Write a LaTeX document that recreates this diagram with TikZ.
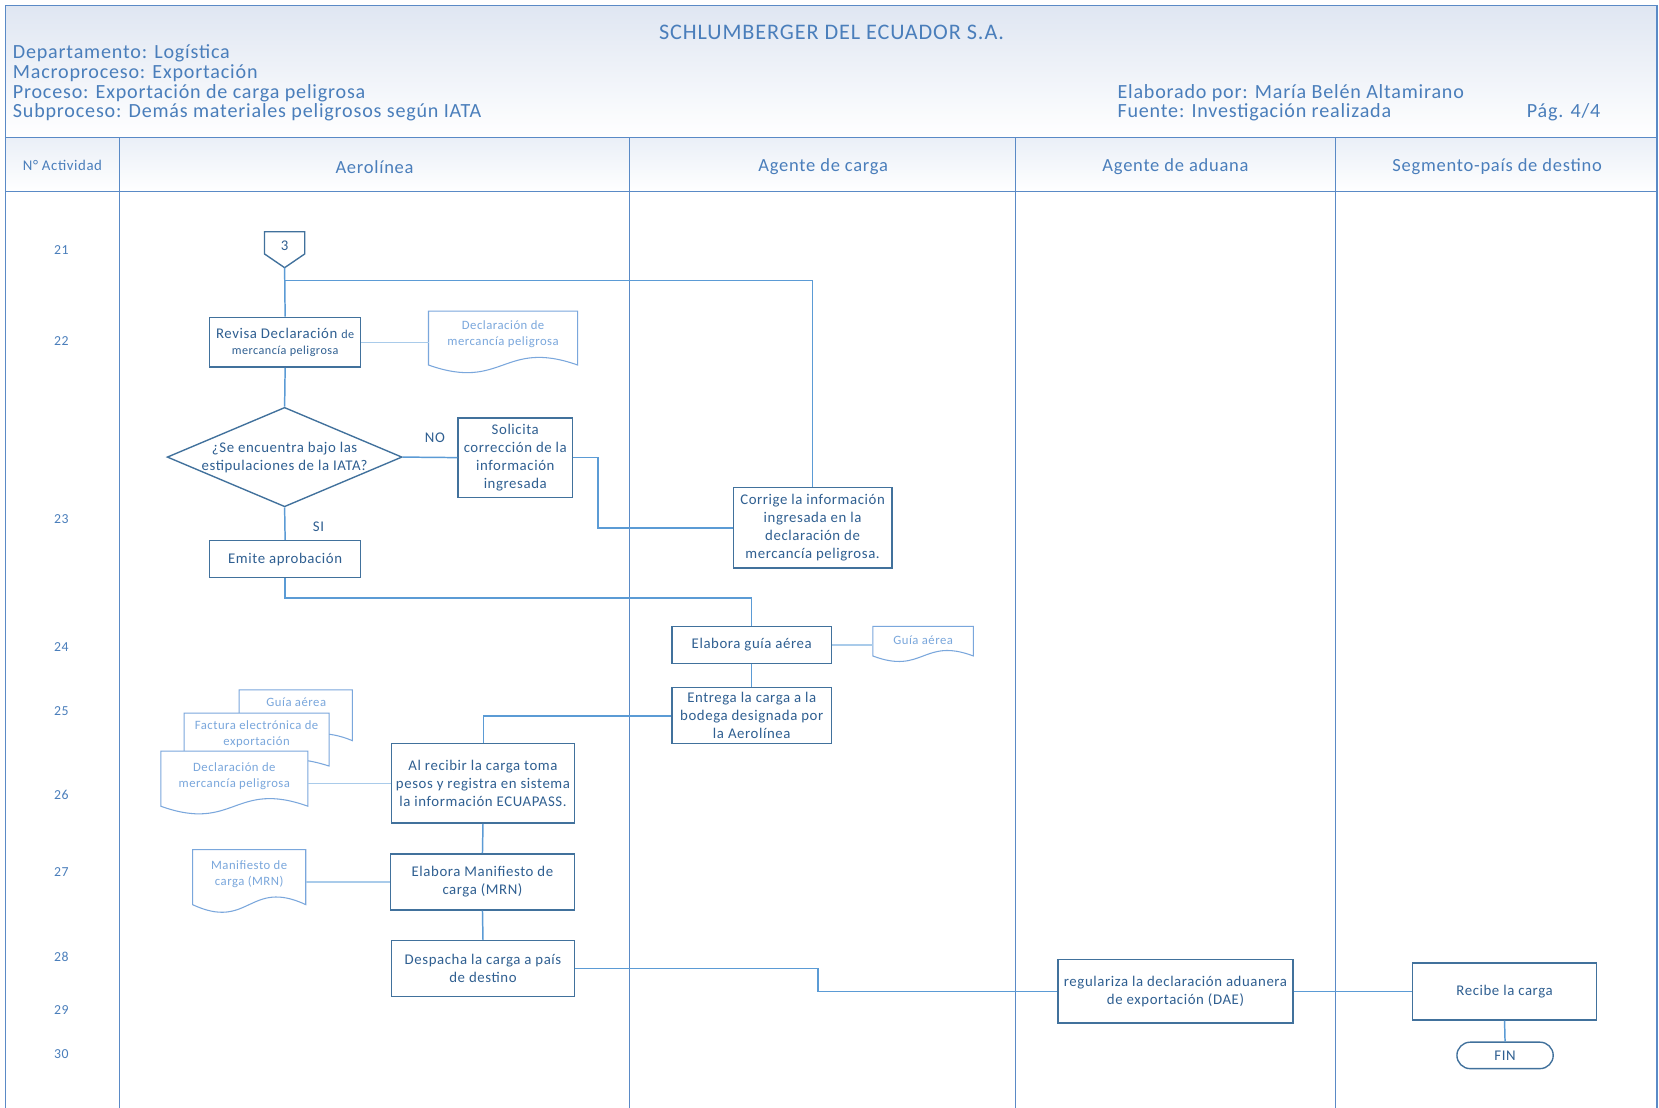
\documentclass[tikz,border=0pt]{standalone}
\usepackage{fontspec}
\setmainfont{Carlito}[LetterSpace=4]
\usetikzlibrary{calc,shapes.geometric}
\definecolor{boxc}{HTML}{41719C}
\definecolor{linec}{HTML}{5B9BD5}
\definecolor{lanec}{HTML}{5A8AC6}
\definecolor{txtc}{HTML}{2F5F91}
\definecolor{hdrc}{HTML}{4A7EBB}
\definecolor{docc}{HTML}{7AA7DC}
\definecolor{doclc}{HTML}{A9CBEA}
\definecolor{hdrtop}{HTML}{DFE6F2}
\definecolor{rowtop}{HTML}{EAEFF7}
\newcommand{\docshape}[6]{%
  \node[inner sep=0pt, outer sep=0pt, minimum width=#4pt, minimum height=#5pt] (#1) at (#2,#3) {};
  \draw[docline, fill=white] (#1.north west) -- (#1.north east) -- (#1.south east)
     .. controls ($(#1.south)+(0,-#6)$) and ($(#1.south)+(0,#6)$) .. (#1.south west) -- cycle;}
\begin{document}
\begin{tikzpicture}[x=1pt,y=-1pt,
  box/.style={draw=boxc, line width=1.3pt, fill=white, inner sep=2pt, align=center, text=txtc,
    font=\fontsize{14}{17}\selectfont},
  boxtext/.style={inner sep=0pt, align=center, text=txtc, font=\fontsize{14}{17}\selectfont},
  docline/.style={draw=docc, line width=1pt},
  doctext/.style={inner sep=0pt, align=center, text=docc, font=\fontsize{12}{15}\selectfont},
  conn/.style={draw=linec, line width=1.4pt},
  dconn/.style={draw=doclc, line width=1.4pt},
  lane/.style={draw=lanec, line width=1.3pt},
  hdr/.style={inner sep=0pt, text=hdrc, font=\fontsize{19}{21}\selectfont},
  colh/.style={inner sep=0pt, text=hdrc, font=\fontsize{17.5}{19}\selectfont},
  rown/.style={inner sep=0pt, text=hdrc, font=\fontsize{13}{15}\selectfont},
  lbl/.style={inner sep=0pt, text=txtc, font=\fontsize{14}{15}\selectfont}]
\useasboundingbox (0,0) rectangle (1568,1047);
\fill[white] (0,0) rectangle (1568,1047);
% header shading
\shade[top color=hdrtop, bottom color=white] (5,5) rectangle (1566,130);
\shade[top color=rowtop, bottom color=white] (5,130) rectangle (1566,181);
% frame
\draw[lane] (5,1047) -- (5,5) -- (1566,5) -- (1566,1047);
\draw[lane] (5,130) -- (1566,130);
\draw[lane] (5,181) -- (1566,181);
\foreach \x in {113,595,960,1262} \draw[lane] (\x,130) -- (\x,1047);
% header texts
\node[hdr, font=\fontsize{21}{23}\selectfont] (title) at (786,31) {SCHLUMBERGER DEL ECUADOR S.A.};
\node[hdr, anchor=west] (h1) at (12,50.5) {Departamento: Logística};
\node[hdr, anchor=west] (h2) at (12,69.5) {Macroproceso: Exportación};
\node[hdr, anchor=west] (h3) at (12,88.5) {Proceso: Exportación de carga peligrosa};
\node[hdr, anchor=west] (h4) at (12,106.5) {Subproceso: Demás materiales peligrosos según IATA};
\node[hdr, anchor=west] (h5) at (1056,88.5) {Elaborado por: María Belén Altamirano};
\node[hdr, anchor=west] (h6) at (1056,106.5) {Fuente: Investigación realizada};
\node[hdr, anchor=west] (h7) at (1443,106.5) {Pág. 4/4};
% column headers
\node[colh, font=\fontsize{14}{15}\selectfont] (c0) at (59,156.5) {N° Actividad};
\node[colh] (c1) at (354,157.5) {Aerolínea};
\node[colh] (c2) at (778,157.5) {Agente de carga};
\node[colh] (c3h) at (1111,157.5) {Agente de aduana};
\node[colh] (c4) at (1415,157.5) {Segmento-país de destino};
% row numbers
\foreach \n/\y in {21/236,22/322,23/491,24/612,25/672,26/751,27/824,28/904,29/955,30/996}
  \node[rown] (r\n) at (58,\y) {\n};
% off-page connector
\draw[draw=boxc, line width=1.3pt, fill=white] (250,219) -- (288,219) -- (288,240) -- (269,253) -- (250,240) -- cycle;
\node[boxtext] (c3) at (269,232) {3};
\coordinate (c3b) at (269,253);
% nodes
\node[box, minimum width=143pt, minimum height=47pt] (revisa) at (269.5,323.5)
  {Revisa Declaración {\fontsize{11.5}{13}\selectfont de}\\[-2pt]{\fontsize{11.5}{13}\selectfont mercancía peligrosa}};
\docshape{doc1}{475.5}{319.5}{141}{51}{25}
\node[doctext] (doc1t) at (475.5,316) {Declaración de\\mercancía peligrosa};
\node[diamond, draw=boxc, line width=1.3pt, fill=white, minimum width=222pt, minimum height=94pt, inner sep=0pt] (dec) at (269,432) {};
\node[boxtext] (dect) at (269,432.5) {¿Se encuentra bajo las\\estipulaciones de la IATA?};
\node[box, minimum width=108pt, minimum height=75pt] (solicita) at (487,432.5)
  {Solicita\\corrección de la\\información\\ingresada};
\node[box, minimum width=150pt, minimum height=76pt] (corrige) at (768,499)
  {Corrige la información\\ingresada en la\\declaración de\\mercancía peligrosa.};
\node[box, minimum width=143pt, minimum height=35pt] (emite) at (269.5,528.5) {Emite aprobación};
\node[box, minimum width=151pt, minimum height=35pt] (guia) at (710.5,609.5) {Elabora guía aérea};
\docshape{doc2}{872.5}{606}{95}{28}{18}
\node[doctext] (doc2t) at (872.5,605) {Guía aérea};
\node[box, minimum width=151pt, minimum height=53pt] (entrega) at (710.5,676.5)
  {Entrega la carga a la\\bodega designada por\\la Aerolínea};
% stacked documents
\docshape{dga}{279.5}{676}{107}{48}{22}
\node[doctext] (dgat) at (280,664) {Guía aérea};
\docshape{dfe}{242.5}{699}{137}{50}{22}
\node[doctext] (dfet) at (242.5,694) {Factura electrónica de\\exportación};
\docshape{ddm}{221.5}{736}{139}{52}{25}
\node[doctext] (ddmt) at (221.5,734) {Declaración de\\mercancía peligrosa};
\node[box, minimum width=173pt, minimum height=75pt] (recibir) at (456.5,740.5)
  {Al recibir la carga toma\\pesos y registra en sistema\\la información ECUAPASS.};
\docshape{dmrn}{235.5}{829}{107}{52}{25}
\node[doctext] (dmrnt) at (235.5,826.5) {Manifiesto de\\carga (MRN)};
\node[box, minimum width=174pt, minimum height=53pt] (manif) at (456,833.5)
  {Elabora Manifiesto de\\carga (MRN)};
\node[box, minimum width=173pt, minimum height=53pt] (despacha) at (456.5,915.5)
  {Despacha la carga a país\\de destino};
\node[box, minimum width=222pt, minimum height=60pt] (regul) at (1111,937)
  {regulariza la declaración aduanera\\de exportación (DAE)};
\node[box, minimum width=174pt, minimum height=54pt] (recibe) at (1422,937) {Recibe la carga};
\node[box, rounded corners=12.5pt, minimum width=91pt, minimum height=25pt, inner sep=0pt] (fin) at (1422.5,997.5) {FIN};
% connectors
\draw[conn] (c3b) -- (revisa.north);
\draw[conn] (269,265) -- (768,265) -- (corrige.north);
\draw[dconn] (revisa.east) -- (revisa.east -| doc1.west);
\draw[conn] (revisa.south) -- (dec.north);
\draw[conn] (dec.east) -- (solicita.west);
\node[lbl] (no) at (411,414) {NO};
\draw[conn] (solicita.east) -- (565,432.5) -- (565,499) -- (corrige.west);
\draw[conn] (dec.south) -- (emite.north);
\node[lbl] (si) at (301,498) {SI};
\draw[conn] (emite.south) -- (269.5,565) -- (710.5,565) -- (guia.north);
\draw[dconn] (guia.east) -- (guia.east -| doc2.west);
\draw[conn] (guia.south) -- (entrega.north);
\draw[conn] (entrega.west) -- (457,676.5) -- (recibir.north -| 457,0);
\draw[dconn] (recibir.west) -- (recibir.west -| ddm.east);
\draw[conn] (recibir.south) -- (manif.north);
\draw[dconn] (manif.west) -- (manif.west -| dmrn.east);
\draw[conn] (manif.south) -- (despacha.north);
\draw[conn] (despacha.east) -- (773,915.5) -- (773,937) -- (regul.west);
\draw[conn] (regul.east) -- (recibe.west);
\draw[conn] (recibe.south) -- (fin.north);
\end{tikzpicture}
\end{document}
